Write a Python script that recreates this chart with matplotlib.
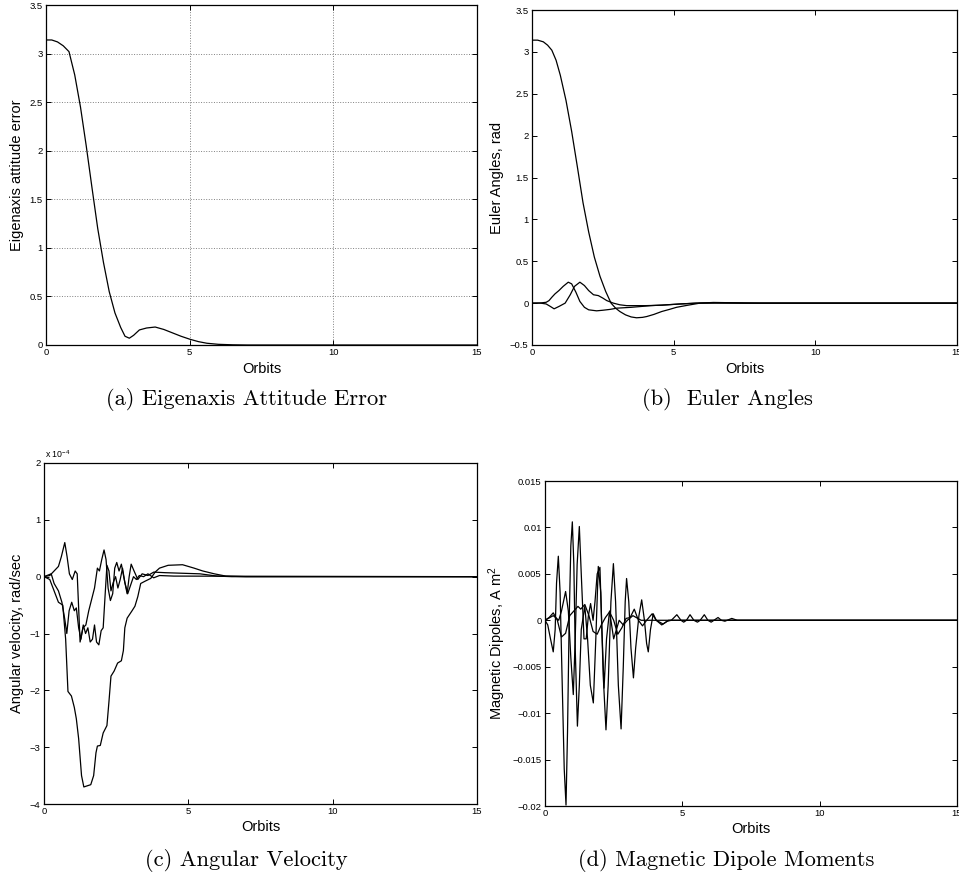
import numpy as np
import matplotlib
matplotlib.use('Agg')
import matplotlib.pyplot as plt
from matplotlib.ticker import FuncFormatter

plt.rcParams['font.family'] = ['Liberation Sans', 'DejaVu Sans']
plt.rcParams['mathtext.fontset'] = 'custom'
plt.rcParams['mathtext.rm'] = 'Liberation Sans'
plt.rcParams['mathtext.it'] = 'Liberation Sans'

# (a) eigenaxis attitude error
A_X = [0, 0.2, 0.4, 0.6, 0.8, 1.0, 1.2, 1.4, 1.6, 1.8, 2.0, 2.2, 2.4, 2.6, 2.75, 2.9,
       3.05, 3.25, 3.5, 3.8, 4.1, 4.4, 4.7, 5.0, 5.3, 5.6, 6.0, 6.5, 7.0, 15]
A_Y = [3.14, 3.14, 3.12, 3.08, 3.02, 2.78, 2.45, 2.05, 1.62, 1.2, 0.85, 0.55, 0.33, 0.18,
       0.09, 0.07, 0.1, 0.155, 0.175, 0.185, 0.16, 0.125, 0.09, 0.06, 0.035, 0.018, 0.007,
       0.002, 0.0, 0.0]

# (b) Euler angles
B1_X = [0, 0.2, 0.4, 0.55, 0.7, 0.85, 1.0, 1.2, 1.4, 1.6, 1.8, 2.0, 2.2, 2.4, 2.6, 2.79,
        2.95, 3.1, 3.3, 3.5, 3.69, 3.9, 4.05, 4.3, 4.58, 4.85, 5.1, 5.5, 5.93, 6.4, 7.0,
        8.0, 15]
B1_Y = [3.14, 3.14, 3.12, 3.08, 3.02, 2.9, 2.72, 2.42, 2.05, 1.63, 1.2, 0.85, 0.55, 0.32,
        0.14, 0.0, -0.06, -0.1, -0.14, -0.165, -0.175, -0.17, -0.16, -0.135, -0.1, -0.075,
        -0.05, -0.025, 0.0, 0.008, 0.005, 0.0, 0.0]
B2_X = [0, 0.3, 0.5, 0.6, 0.7, 0.81, 0.95, 1.1, 1.28, 1.4, 1.55, 1.69, 1.85, 2.0, 2.28, 2.5,
        2.75, 3.0, 3.5, 4.2, 5.0, 5.8, 15]
B2_Y = [0, 0.002, 0.01, 0.03, 0.07, 0.11, 0.15, 0.2, 0.25, 0.23, 0.13, 0.02, -0.05, -0.08,
        -0.092, -0.085, -0.075, -0.06, -0.05, -0.03, -0.015, 0, 0]
B3_X = [0, 0.3, 0.5, 0.65, 0.78, 0.95, 1.17, 1.35, 1.5, 1.69, 1.85, 2.0, 2.17, 2.34, 2.5, 2.64,
        2.87, 3.1, 3.34, 4.0, 4.6, 5.2, 5.8, 6.5, 7.5, 15]
B3_Y = [0, 0.0, -0.01, -0.04, -0.068, -0.04, 0.0, 0.1, 0.2, 0.25, 0.21, 0.15, 0.1, 0.09, 0.06,
        0.03, 0.0, -0.02, -0.03, -0.03, -0.025, -0.01, 0.0, 0.005, 0.0, 0]

# (c) angular velocity, units of 1e-4 rad/sec
C1_X = [0, 0.2, 0.35, 0.5, 0.65, 0.75, 0.83, 0.95, 1.05, 1.12, 1.2, 1.3, 1.38, 1.5, 1.62, 1.72,
        1.8, 1.85, 1.95, 2.05, 2.18, 2.25, 2.32, 2.43, 2.55, 2.68, 2.75, 2.8, 2.88, 3.05, 3.15,
        3.25, 3.35, 3.5, 3.7, 3.85, 4.0, 4.3, 4.8, 5.2, 5.5, 5.9, 6.3, 7.0, 15]
C1_Y = [0, -0.05, -0.25, -0.45, -0.5, -1.1, -2.02, -2.1, -2.3, -2.5, -2.85, -3.5, -3.7, -3.68,
        -3.66, -3.5, -3.1, -2.98, -2.97, -2.75, -2.62, -2.2, -1.75, -1.66, -1.52, -1.48, -1.3,
        -0.9, -0.73, -0.6, -0.52, -0.35, -0.12, -0.08, -0.03, 0.08, 0.15, 0.2, 0.21, 0.15,
        0.1, 0.05, 0.01, 0, 0]
C2_X = [0, 0.2, 0.35, 0.5, 0.6, 0.72, 0.8, 0.88, 0.98, 1.08, 1.15, 1.25, 1.35, 1.45, 1.55,
        1.65, 1.75, 1.85, 1.92, 2.0, 2.08, 2.15, 2.22, 2.3, 2.38, 2.45, 2.52, 2.6, 2.68, 2.78,
        2.88, 2.95, 3.02, 3.12, 3.25, 3.4, 3.6, 3.8, 4.2, 4.8, 5.4, 6.0, 6.5, 15]
C2_Y = [0, 0.02, 0.1, 0.18, 0.35, 0.6, 0.35, 0.05, -0.05, 0.1, 0.05, -1.15, -0.9, -0.85, -0.6,
        -0.4, -0.2, 0.15, 0.1, 0.3, 0.47, 0.3, -0.2, -0.42, -0.3, 0.15, 0.25, 0.1, 0.22, -0.05,
        -0.3, 0.0, 0.22, 0.1, -0.05, 0.05, 0.02, 0.08, 0.07, 0.06, 0.05, 0.01, 0, 0]
C3_X = [0, 0.15, 0.25, 0.35, 0.5, 0.62, 0.72, 0.79, 0.87, 0.96, 1.05, 1.12, 1.2, 1.28, 1.36,
        1.44, 1.52, 1.6, 1.68, 1.75, 1.82, 1.9, 1.98, 2.05, 2.12, 2.18, 2.25, 2.32, 2.4, 2.48,
        2.56, 2.64, 2.72, 2.8, 2.9, 3.0, 3.1, 3.2, 3.3, 3.45, 3.6, 3.8, 4.0, 4.5, 15]
C3_Y = [0, 0.03, 0.05, -0.12, -0.25, -0.45, -0.75, -1.0, -0.6, -0.45, -0.6, -0.55, -0.9, -1.1,
        -0.85, -1.0, -0.9, -1.15, -1.1, -0.85, -1.15, -1.2, -0.95, -0.9, -0.3, 0.2, 0.1, -0.25,
        -0.1, 0.0, -0.2, -0.05, 0.15, -0.1, -0.3, -0.15, 0.0, -0.05, 0.02, 0.0, 0.05, -0.02,
        0.02, 0.01, 0]

# (d) magnetic dipoles, A m^2
D1_X = [0, 0.1, 0.2, 0.3, 0.37, 0.42, 0.485, 0.55, 0.62, 0.7, 0.765, 0.82, 0.88, 0.94, 0.995,
        1.05, 1.1, 1.18, 1.25, 1.32, 1.45, 1.55, 1.65, 1.76, 1.85, 1.94, 2.03, 2.12, 2.22, 2.3,
        2.4, 2.49, 2.57, 2.67, 2.77, 2.85, 2.92, 2.97, 3.05, 3.13, 3.22, 3.3, 3.42, 3.52, 3.62,
        3.7, 3.76, 3.84, 3.94, 4.05, 4.3, 4.5, 15]
D1_Y = [0, -0.0005, -0.002, -0.0034, -0.001, 0.004, 0.0069, 0.003, -0.006, -0.016, -0.0199,
        -0.012, 0.0, 0.008, 0.0106, 0.006, -0.003, -0.0114, -0.007, -0.001, 0.0015, -0.002,
        -0.007, -0.0089, -0.002, 0.0058, 0.003, -0.006, -0.0118, -0.007, 0.002, 0.0061, 0.002,
        -0.007, -0.0117, -0.005, 0.002, 0.0045, 0.002, -0.003, -0.0062, -0.003, 0.0005, 0.0022,
        0.0, -0.0025, -0.0034, -0.001, 0.0007, 0.0, -0.0004, 0.0, 0]
D2_X = [0, 0.3, 0.5, 0.6, 0.75, 0.85, 0.94, 1.03, 1.1, 1.17, 1.25, 1.32, 1.42, 1.5, 1.58, 1.66,
        1.75, 1.82, 1.9, 2.0, 2.06, 2.15, 2.24, 2.35, 2.5, 2.6, 2.7, 2.85, 3.0, 3.2, 3.5, 15]
D2_Y = [0, 0.0005, 0.0, 0.001, 0.0031, 0.001, -0.004, -0.008, -0.002, 0.006, 0.0101, 0.005,
        -0.002, -0.002, 0.0005, 0.0018, 0.0, 0.002, 0.005, 0.0057, 0.0, -0.0073, -0.002, 0.001,
        -0.002, -0.001, 0.0, -0.0005, 0.0, 0.0005, 0.0, 0]
D3_X = [0, 0.15, 0.3, 0.45, 0.6, 0.75, 0.9, 1.05, 1.2, 1.3, 1.45, 1.6, 1.75, 1.9, 2.05, 2.2,
        2.35, 2.5, 2.65, 2.8, 2.95, 3.1, 3.25, 3.4, 3.55, 3.7, 3.9, 4.05, 4.25, 4.45, 4.6, 4.8,
        4.95, 5.05, 5.15, 5.28, 5.42, 5.55, 5.65, 5.8, 5.93, 6.05, 6.15, 6.3, 6.42, 6.55, 6.8,
        7.0, 15]
D3_Y = [0, 0.0003, 0.0008, 0.0, -0.0018, -0.0014, 0.0005, 0.001, 0.0015, 0.0012, 0.0017,
        0.0005, -0.0012, -0.0015, -0.0005, 0.0003, 0.0009, 0.0, -0.0015, -0.0008, 0.0002,
        0.0003, 0.0012, 0.0, -0.0006, 0.0, 0.0007, 0.0, -0.0005, -0.0001, 0.0, 0.0006, 0.0,
        -0.0002, 0.0, 0.0006, 0.0, -0.0002, 0.0, 0.0006, 0.0, -0.0002, 0.0, 0.0003, 0.0,
        -0.0001, 0.0002, 0, 0]

X_TICKS = [0, 5, 10, 15]
A_YTICKS = [0, 0.5, 1, 1.5, 2, 2.5, 3, 3.5]
B_YTICKS = [-0.5, 0, 0.5, 1, 1.5, 2, 2.5, 3, 3.5]
C_YTICKS = [-4, -3, -2, -1, 0, 1, 2]
D_YTICKS = [-0.02, -0.015, -0.01, -0.005, 0, 0.005, 0.01, 0.015]

W, H = 959, 875
fig = plt.figure(figsize=(W / 100, H / 100), dpi=100)


def make_axes(left, top, right, bottom):
    # pixel box -> figure fraction
    return fig.add_axes([left / W, 1 - bottom / H, (right - left) / W, (bottom - top) / H])


def fmt(v, pos):
    s = f'{v:g}'
    return s.replace('-', '\u2212')


def style(ax, yticks, ylim, ylabel, ylab_x, xlab_y):
    ax.set_xlim(0, 15)
    ax.set_ylim(*ylim)
    ax.set_xticks(X_TICKS)
    ax.set_yticks(yticks)
    ax.xaxis.set_major_formatter(FuncFormatter(fmt))
    ax.yaxis.set_major_formatter(FuncFormatter(fmt))
    ax.tick_params(direction='in', top=True, right=True, length=3.6, width=0.7,
                   labelsize=6.8, pad=2.5)
    for sp in ax.spines.values():
        sp.set_linewidth(0.9)
    ax.set_ylabel(ylabel, fontsize=10.5)
    ax.yaxis.set_label_coords(ylab_x, 0.5)
    ax.set_xlabel('Orbits', fontsize=10.5)
    ax.xaxis.set_label_coords(0.5, xlab_y)


LW = 0.9
cap_font = dict(family='cmr10', fontsize=16.2, ha='center', va='center')

# (a)
ax = make_axes(46, 5, 477, 345)
ax.plot(A_X, A_Y, color='black', lw=LW)
style(ax, A_YTICKS, (0, 3.5), 'Eigenaxis attitude error', -0.051, -0.05)
ax.grid(True, linestyle=':', color='#808080', linewidth=0.7)
fig.text(247 / W, 1 - 400 / H, '(a) Eigenaxis Attitude Error', **cap_font)

# (b)
ax = make_axes(532, 10, 957, 345)
for xs, ys in [(B1_X, B1_Y), (B2_X, B2_Y), (B3_X, B3_Y)]:
    ax.plot(xs, ys, color='black', lw=LW)
style(ax, B_YTICKS, (-0.5, 3.5), 'Euler Angles, rad', -0.066, -0.051)
fig.text(727 / W, 1 - 400 / H, '(b)  Euler Angles', **cap_font)

# (c)
ax = make_axes(44, 463, 477, 804)
for xs, ys in [(C1_X, C1_Y), (C2_X, C2_Y), (C3_X, C3_Y)]:
    ax.plot(xs, ys, color='black', lw=LW)
style(ax, C_YTICKS, (-4, 2), 'Angular velocity, rad/sec', -0.046, -0.047)
ax.text(0.002, 1.008, r'x 10$^{-4}$', transform=ax.transAxes, fontsize=6.3,
        ha='left', va='bottom')
fig.text(246 / W, 1 - 860 / H, '(c) Angular Velocity', **cap_font)

# (d)
ax = make_axes(545, 481, 957, 806)
for xs, ys in [(D1_X, D1_Y), (D2_X, D2_Y), (D3_X, D3_Y)]:
    ax.plot(xs, ys, color='black', lw=LW)
style(ax, D_YTICKS, (-0.02, 0.015), r'Magnetic Dipoles, A m$^2$', -0.09, -0.049)
fig.text(726 / W, 1 - 860 / H, '(d) Magnetic Dipole Moments', **cap_font)

fig.savefig('out.png', dpi=100)
